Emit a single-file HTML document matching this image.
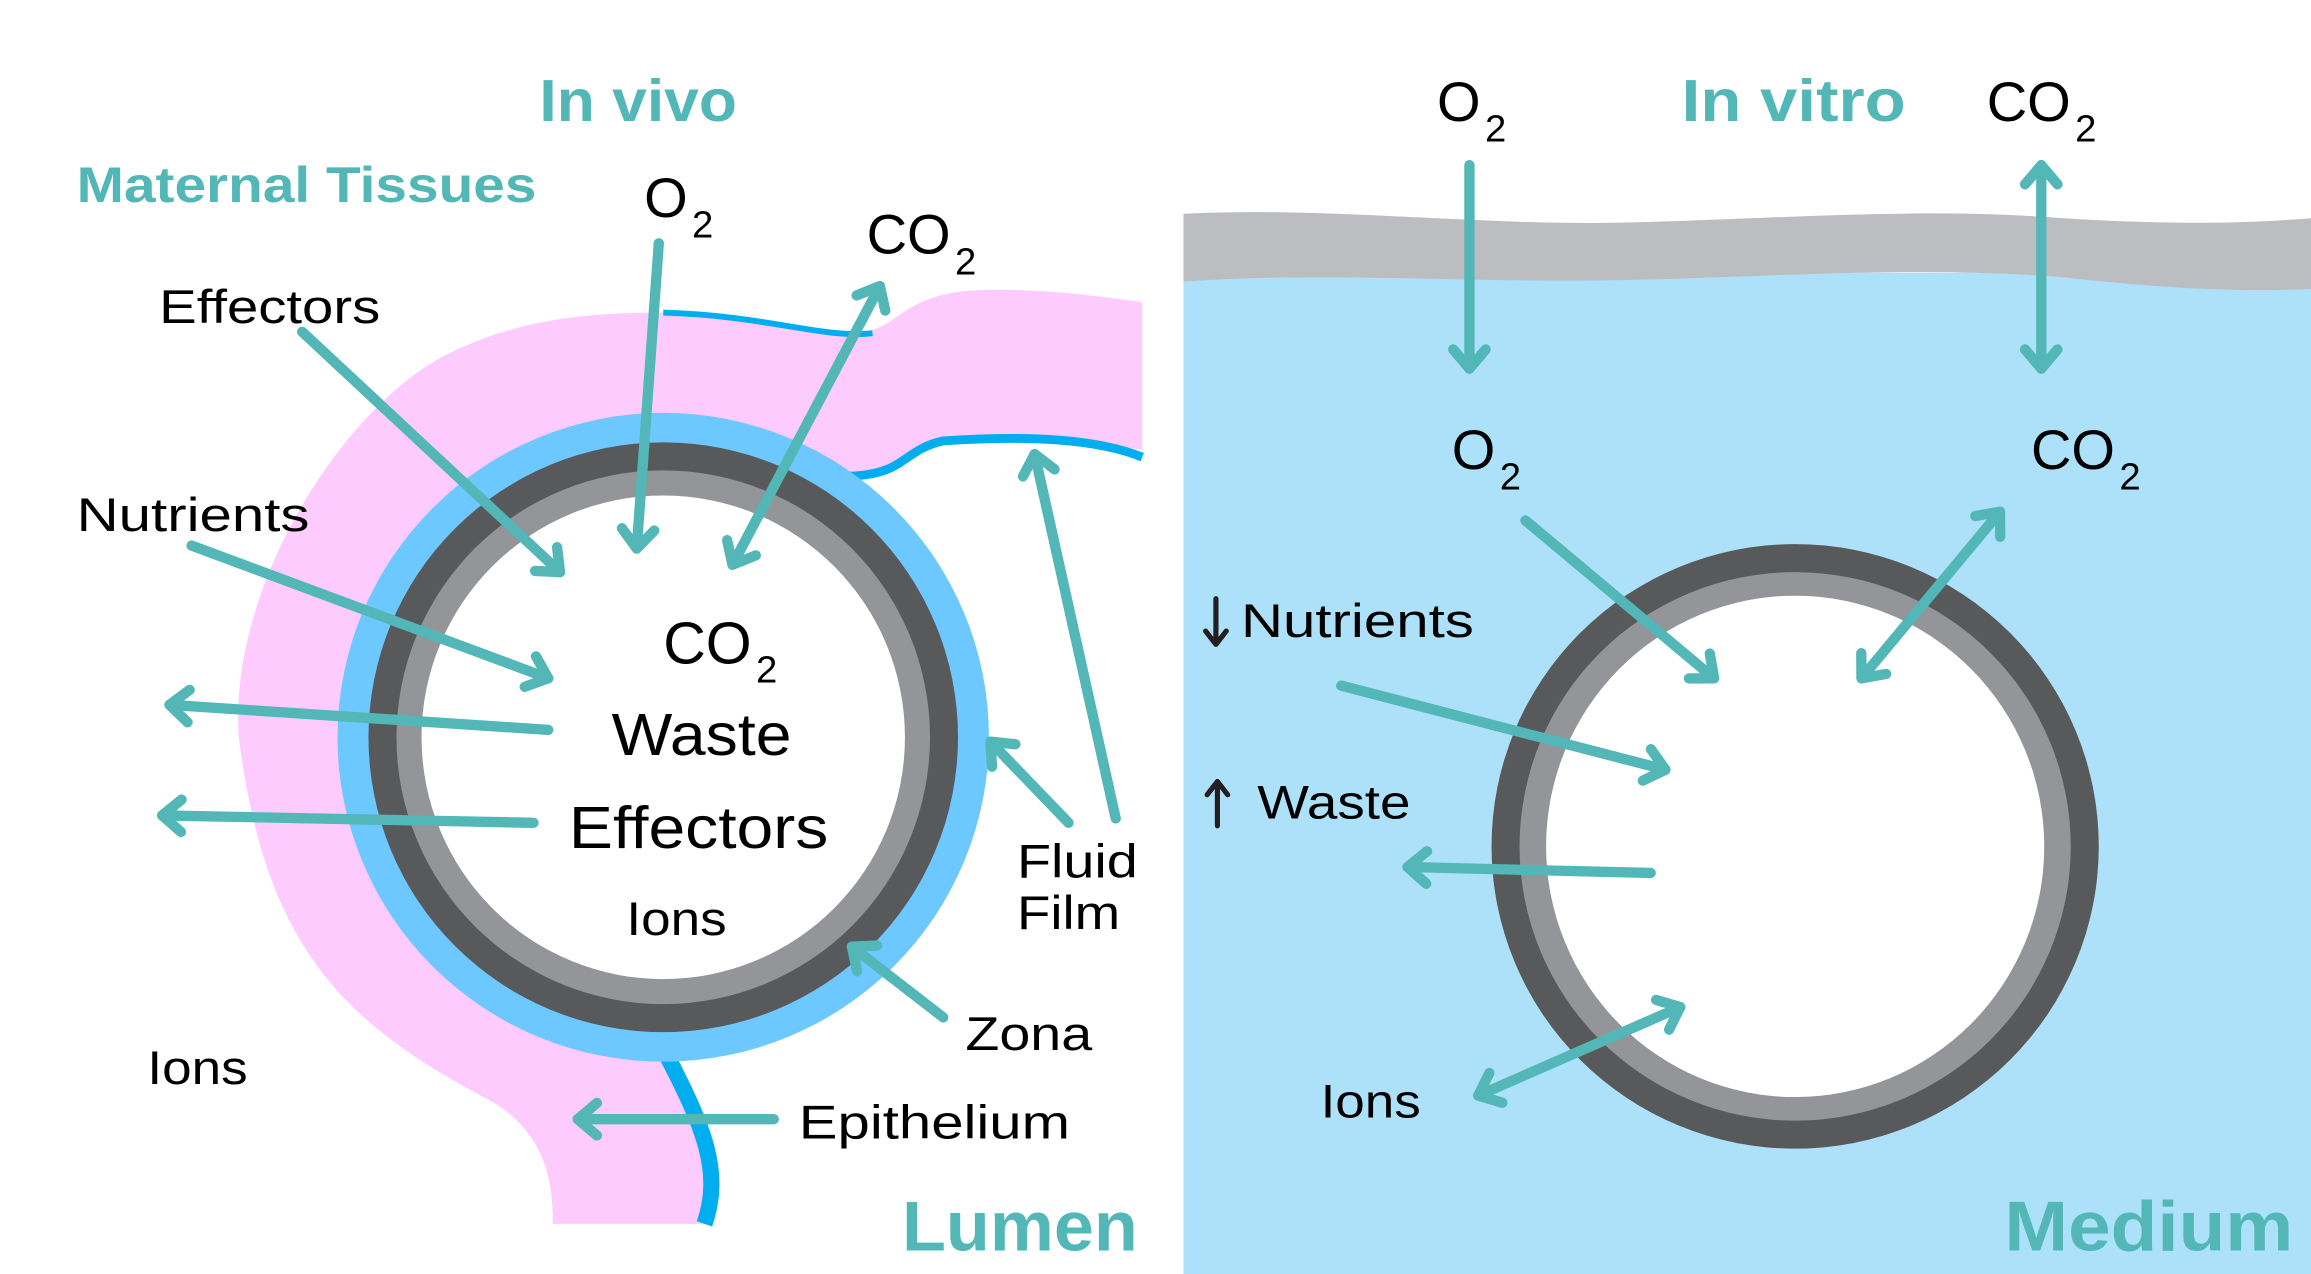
<!DOCTYPE html>
<html><head><meta charset="utf-8"><style>
html,body{margin:0;padding:0;background:#fff;}
svg{display:block;}
text{font-family:"Liberation Sans",sans-serif;}
</style></head><body>
<svg width="2311" height="1274" viewBox="0 0 1568 864" xmlns="http://www.w3.org/2000/svg" preserveAspectRatio="none">
<defs>
<marker id="h" markerUnits="userSpaceOnUse" viewBox="-20 -16 24 32" refX="0" refY="0" markerWidth="24" markerHeight="32" orient="auto-start-reverse">
<path d="M-13,-11 L0,0 L-13,11" fill="none" stroke="#52b7b6" stroke-width="7" stroke-linecap="round" stroke-linejoin="round"/>
</marker>
</defs>
<rect width="1568" height="864" fill="#fff"/>

<!-- LEFT: pink tissue -->
<path d="M775,205 L775,305 C740,300 700,295 640,298 C615,305 615,322 580,323 L450,500 L455,720 C478,765 490,795 482,830 L375,830 C376,790 362,762 330,745 C230,692 180,640 162,500 C155,400 230,280 300,242 C350,216 400,212 450,212 C520,214 560,230 590,224 C610,220 615,200 660,197 C700,195 740,200 775,205 Z" fill="#fdcbfd"/>
<path d="M450,212 C520,214 560,230 592,226" fill="none" stroke="#00aeef" stroke-width="4"/>
<path d="M575,323 C615,322 612,305 640,299 C700,295 745,298 775,310" fill="none" stroke="#00aeef" stroke-width="6"/>
<path d="M452,715 C478,765 490,795 478,830" fill="none" stroke="#00aeef" stroke-width="11"/>

<!-- left egg -->
<ellipse cx="450" cy="500" rx="221" ry="220" fill="#6cc8ff"/>
<ellipse cx="450" cy="500" rx="200" ry="200" fill="#58595b"/>
<ellipse cx="450" cy="500" rx="181" ry="181" fill="#939598"/>
<ellipse cx="450" cy="500" rx="164" ry="164" fill="#fff"/>

<!-- RIGHT panel -->
<rect x="803" y="185" width="765" height="679" fill="#ade1fa"/>
<path d="M803,145 C900,140 1000,153 1100,151 C1200,149 1300,140 1400,148 C1480,153 1530,151 1568,148 L1568,196 C1520,198 1470,196 1400,188 C1300,180 1200,188 1100,190 C1000,192 900,184 803,191 Z" fill="#bcbdc0"/>
<ellipse cx="1218" cy="574" rx="206" ry="205" fill="#58595b"/>
<ellipse cx="1218" cy="574" rx="187" ry="186" fill="#939598"/>
<ellipse cx="1218" cy="574" rx="169" ry="170" fill="#fff"/>

<!-- arrows -->
<g stroke="#52b7b6" stroke-width="7" stroke-linecap="round" fill="none">
<line x1="447" y1="165" x2="432" y2="372" marker-end="url(#h)"/>
<line x1="497" y1="383" x2="597" y2="194" marker-start="url(#h)" marker-end="url(#h)"/>
<line x1="205" y1="225" x2="380" y2="388" marker-end="url(#h)"/>
<line x1="130" y1="370" x2="372" y2="460" marker-end="url(#h)"/>
<line x1="372" y1="495" x2="115" y2="478" marker-end="url(#h)"/>
<line x1="362" y1="558" x2="110" y2="553" marker-end="url(#h)"/>
<line x1="757" y1="555" x2="702" y2="308" marker-end="url(#h)"/>
<line x1="725" y1="558" x2="672" y2="503" marker-end="url(#h)"/>
<line x1="640" y1="690" x2="578" y2="642" marker-end="url(#h)"/>
<line x1="525" y1="759" x2="392" y2="759" marker-end="url(#h)"/>

<line x1="997" y1="112" x2="997" y2="250" marker-end="url(#h)"/>
<line x1="1385" y1="112" x2="1385" y2="250" marker-start="url(#h)" marker-end="url(#h)"/>
<line x1="1035" y1="353" x2="1163" y2="460" marker-end="url(#h)"/>
<line x1="1263" y1="460" x2="1357" y2="347" marker-start="url(#h)" marker-end="url(#h)"/>
<line x1="910" y1="465" x2="1130" y2="522" marker-end="url(#h)"/>
<line x1="1120" y1="592" x2="955" y2="588" marker-end="url(#h)"/>
<line x1="1003" y1="743" x2="1140" y2="683" marker-start="url(#h)" marker-end="url(#h)"/>
</g>

<!-- small black arrows -->
<g stroke="#231f20" stroke-width="3.5" stroke-linecap="round" stroke-linejoin="round" fill="none">
<line x1="825" y1="406" x2="825" y2="436"/>
<path d="M818,428 L825,437 L832,428"/>
<line x1="826" y1="531" x2="826" y2="560"/>
<path d="M819,539 L826,530 L833,539"/>
</g>

<!-- titles -->
<g fill="#52b7b6" font-weight="bold">
<text x="366" y="82" font-size="40" textLength="134" lengthAdjust="spacingAndGlyphs">In vivo</text>
<text x="52" y="137" font-size="34" textLength="312" lengthAdjust="spacingAndGlyphs">Maternal Tissues</text>
<text x="612" y="848" font-size="48" textLength="160" lengthAdjust="spacingAndGlyphs">Lumen</text>
<text x="1141" y="82" font-size="40" textLength="152" lengthAdjust="spacingAndGlyphs">In vitro</text>
<text x="1360" y="848" font-size="48" textLength="196" lengthAdjust="spacingAndGlyphs">Medium</text>
</g>

<!-- labels -->
<g fill="#000">
<text x="108" y="219" font-size="32" textLength="150" lengthAdjust="spacingAndGlyphs">Effectors</text>
<text x="52" y="360" font-size="32" textLength="158" lengthAdjust="spacingAndGlyphs">Nutrients</text>
<text x="100" y="735" font-size="32" textLength="68" lengthAdjust="spacingAndGlyphs">Ions</text>
<text x="437" y="147" font-size="38">O<tspan font-size="26" dx="3" dy="14">2</tspan></text>
<text x="588" y="172" font-size="38">CO<tspan font-size="26" dx="3" dy="14">2</tspan></text>
<text x="450" y="450" font-size="40">CO<tspan font-size="26" dx="3" dy="13">2</tspan></text>
<text x="415" y="512" font-size="40" textLength="122" lengthAdjust="spacingAndGlyphs">Waste</text>
<text x="386" y="575" font-size="40" textLength="176" lengthAdjust="spacingAndGlyphs">Effectors</text>
<text x="425" y="634" font-size="32" textLength="68" lengthAdjust="spacingAndGlyphs">Ions</text>
<text x="690" y="595" font-size="32" textLength="82" lengthAdjust="spacingAndGlyphs">Fluid</text>
<text x="690" y="630" font-size="32" textLength="70" lengthAdjust="spacingAndGlyphs">Film</text>
<text x="655" y="712" font-size="32" textLength="86" lengthAdjust="spacingAndGlyphs">Zona</text>
<text x="542" y="772" font-size="32" textLength="184" lengthAdjust="spacingAndGlyphs">Epithelium</text>

<text x="975" y="82" font-size="38">O<tspan font-size="26" dx="3" dy="14">2</tspan></text>
<text x="1348" y="82" font-size="38">CO<tspan font-size="26" dx="3" dy="14">2</tspan></text>
<text x="985" y="318" font-size="38">O<tspan font-size="26" dx="3" dy="14">2</tspan></text>
<text x="1378" y="318" font-size="38">CO<tspan font-size="26" dx="3" dy="14">2</tspan></text>
<text x="842" y="432" font-size="32" textLength="158" lengthAdjust="spacingAndGlyphs">Nutrients</text>
<text x="853" y="555" font-size="32" textLength="104" lengthAdjust="spacingAndGlyphs">Waste</text>
<text x="896" y="758" font-size="32" textLength="68" lengthAdjust="spacingAndGlyphs">Ions</text>
</g>
</svg>
</body></html>
